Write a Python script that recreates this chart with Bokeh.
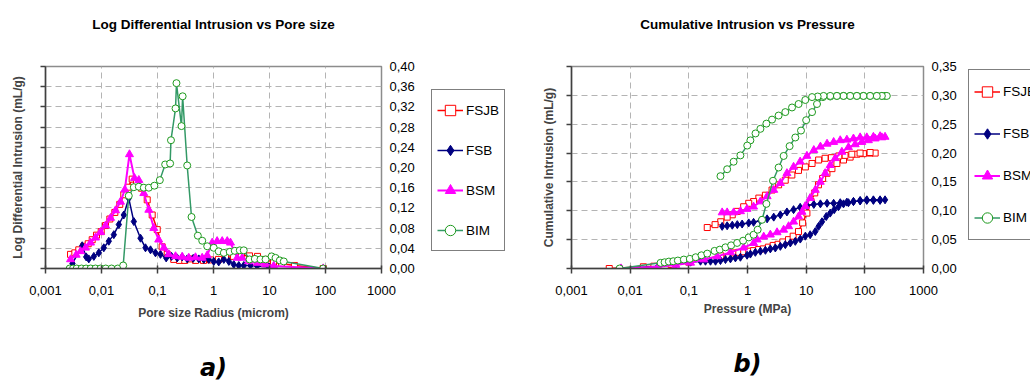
from bokeh.plotting import figure
from bokeh.models import (Range1d, LinearAxis, FixedTicker, CustomJSTickFormatter,
                          Legend, LegendItem, Title)
from bokeh.layouts import row
from bokeh.embed import file_html
from bokeh.resources import INLINE

# ---------------- data ----------------
series_names = ["FSJB", "FSB", "BSM", "BIM"]

x_tick_values = [0.001, 0.01, 0.1, 1, 10, 100, 1000]
x_tick_labels = ["0,001", "0,01", "0,1", "1", "10", "100", "1000"]
ldi_ticks = [0.00, 0.04, 0.08, 0.12, 0.16, 0.20, 0.24, 0.28, 0.32, 0.36, 0.40]
cum_ticks = [0.00, 0.05, 0.10, 0.15, 0.20, 0.25, 0.30, 0.35]

# (a) Log differential intrusion (mL/g) vs pore radius (micron)
fsjb_r = [0.0028, 0.00334, 0.00393, 0.00483, 0.00579, 0.00682, 0.00814, 0.00988, 0.0118, 0.0141,
          0.0173, 0.0212, 0.025, 0.030, 0.0353, 0.0422, 0.0518, 0.0655, 0.0804, 0.0989,
          0.121, 0.149, 0.195, 0.247, 0.307, 0.388, 0.477, 0.663, 0.884, 1.23,
          1.64, 2.28, 3.16, 4.39, 6.1, 8.5, 11.8, 16.4, 27.9, 91]
fsjb_ldi = [0.028, 0.031, 0.037, 0.044, 0.049, 0.057, 0.066, 0.073, 0.085, 0.098,
            0.111, 0.127, 0.146, 0.161, 0.177, 0.172, 0.159, 0.136, 0.106, 0.077,
            0.043, 0.028, 0.018, 0.016, 0.016, 0.019, 0.016, 0.016, 0.017, 0.018,
            0.022, 0.024, 0.026, 0.025, 0.024, 0.018, 0.012, 0.010, 0.006, 0.0]
fsb_r = [0.00303, 0.00452, 0.00533, 0.00593, 0.0073, 0.00895, 0.011, 0.0135, 0.0166, 0.0204,
         0.025, 0.0307, 0.0378, 0.0497, 0.061, 0.075, 0.092, 0.113, 0.143, 0.178,
         0.225, 0.276, 0.339, 0.434, 0.547, 0.671, 0.824, 1.01, 1.24, 1.53,
         1.88, 2.30, 2.83, 3.48, 4.58, 6.03, 9.8]
fsb_ldi = [0.010, 0.045, 0.023, 0.019, 0.024, 0.031, 0.041, 0.054, 0.067, 0.087,
           0.106, 0.139, 0.093, 0.060, 0.041, 0.037, 0.031, 0.028, 0.021, 0.024,
           0.021, 0.023, 0.019, 0.020, 0.019, 0.018, 0.018, 0.014, 0.013, 0.018,
           0.014, 0.008, 0.006, 0.006, 0.006, 0.005, 0.003]
bsm_r = [0.0028, 0.00353, 0.00422, 0.00518, 0.00636, 0.00781, 0.0096, 0.0118, 0.0145, 0.0178,
         0.0218, 0.0261, 0.0316, 0.0388, 0.0464, 0.0569, 0.070, 0.0859, 0.105, 0.130,
         0.159, 0.21, 0.276, 0.362, 0.477, 0.628, 0.772, 0.948, 1.16, 1.43,
         1.76, 2.01, 2.65, 3.26, 4.22, 6.03, 8.49, 11.9, 91]
bsm_ldi = [0.018, 0.027, 0.034, 0.041, 0.051, 0.061, 0.072, 0.085, 0.100, 0.115,
           0.132, 0.156, 0.226, 0.179, 0.175, 0.149, 0.116, 0.080, 0.057, 0.041,
           0.028, 0.024, 0.023, 0.021, 0.022, 0.021, 0.026, 0.051, 0.054, 0.054,
           0.054, 0.051, 0.021, 0.021, 0.014, 0.011, 0.008, 0.005, 0.0]
bim_r = [0.0027, 0.0031, 0.0036, 0.0044, 0.0053, 0.0064, 0.0078, 0.0096, 0.0119, 0.0151,
         0.0195, 0.0244, 0.0307, 0.0378, 0.0464, 0.0569, 0.070, 0.088, 0.110, 0.137,
         0.168, 0.174, 0.21, 0.218, 0.268, 0.281, 0.339, 0.405, 0.525, 0.629,
         0.772, 1.01, 1.24, 1.53, 1.95, 2.40, 2.95, 3.47, 4.4, 5.47,
         6.9, 8.5, 10.9, 12.8, 15.3, 18.0, 91]
bim_ldi = [0, 0, 0, 0, 0, 0, 0, 0, 0, 0,
           0, 0.006, 0.144, 0.161, 0.162, 0.160, 0.160, 0.164, 0.175, 0.206,
           0.208, 0.254, 0.317, 0.367, 0.282, 0.341, 0.204, 0.102, 0.065, 0.055,
           0.044, 0.041, 0.034, 0.031, 0.033, 0.035, 0.036, 0.036, 0.018, 0.019,
           0.018, 0.018, 0.024, 0.021, 0.016, 0.014, 0.0]

# (b) Cumulative intrusion (mL/g) vs pressure (MPa): intrusion branch then extrusion branch
fsjb_p_in = [0.0044, 0.0168, 0.0254, 0.05, 0.1, 0.2, 0.35, 0.58, 0.71, 0.86,
             1.05, 1.27, 1.55, 1.86, 2.27, 2.74, 3.32, 4.0, 5.0, 6.0,
             7.4, 8.7, 10.3, 12.1, 14.0, 16.2, 19.1, 22.6, 27.5, 33.4,
             43.3, 56.2, 73.1, 94.6, 123, 150]
fsjb_ci_in = [0, 0.003, 0.004, 0.007, 0.011, 0.017, 0.022, 0.027, 0.028, 0.029,
              0.030, 0.031, 0.033, 0.034, 0.037, 0.040, 0.042, 0.046, 0.050, 0.056,
              0.064, 0.079, 0.096, 0.116, 0.131, 0.145, 0.156, 0.165, 0.173, 0.182,
              0.188, 0.193, 0.198, 0.199, 0.200, 0.200]
fsjb_p_out = [123, 83, 60, 46, 36, 27, 21, 16.3, 12.6, 9.7,
              7.4, 5.7, 4.4, 3.39, 2.62, 2.02, 1.56, 1.27, 1.05, 0.86,
              0.67, 0.55, 0.45, 0.35, 0.28, 0.206]
fsjb_ci_out = [0.201, 0.200, 0.198, 0.196, 0.195, 0.192, 0.191, 0.188, 0.182, 0.176,
               0.170, 0.162, 0.153, 0.145, 0.136, 0.127, 0.122, 0.116, 0.113, 0.107,
               0.099, 0.093, 0.089, 0.081, 0.076, 0.071]
fsb_p_in = [0.007, 0.03, 0.06, 0.107, 0.158, 0.192, 0.234, 0.285, 0.346, 0.421,
            0.512, 0.622, 0.757, 0.984, 1.12, 1.36, 1.66, 2.02, 2.45, 2.98,
            3.63, 4.41, 5.37, 6.53, 7.94, 9.66, 11.7, 14.3, 16.3, 18.6,
            22, 25.7, 30.1, 35.6, 43.3, 52.6, 64, 83.2, 108, 140,
            182, 221]
fsb_ci_in = [0, 0.004, 0.007, 0.011, 0.0126, 0.0126, 0.0126, 0.0126, 0.0138, 0.0155,
             0.0167, 0.0184, 0.0195, 0.023, 0.025, 0.028, 0.030, 0.0315, 0.034, 0.0356,
             0.0384, 0.0413, 0.0443, 0.047, 0.051, 0.056, 0.0585, 0.064, 0.073, 0.081,
             0.090, 0.096, 0.102, 0.107, 0.112, 0.114, 0.116, 0.118, 0.119, 0.119,
             0.119, 0.119]
fsb_p_out = [182, 140, 108, 83.2, 64, 49.4, 38.1, 29.4, 22.7, 17.5,
             13.5, 10.3, 7.9, 6.1, 4.7, 3.63, 2.8, 2.16, 1.66, 1.27,
             1.05, 0.81, 0.67, 0.55, 0.45, 0.37]
fsb_ci_out = [0.118, 0.118, 0.118, 0.117, 0.116, 0.115, 0.114, 0.113, 0.113, 0.112,
              0.111, 0.109, 0.106, 0.102, 0.098, 0.093, 0.089, 0.086, 0.083, 0.080,
              0.079, 0.077, 0.076, 0.075, 0.074, 0.073]
bsm_p_in = [0.007, 0.03, 0.06, 0.107, 0.18, 0.304, 0.512, 0.861, 1.27, 1.46,
            1.89, 2.45, 3.19, 4.13, 5.02, 6.1, 7.43, 8.49, 9.66, 11.7,
            14.3, 17.4, 21.1, 25.7, 31.3, 40.6, 52.6, 68.4, 88.9, 115,
            150, 195, 221]
bsm_ci_in = [0, 0.003, 0.006, 0.0098, 0.0155, 0.021, 0.028, 0.036, 0.044, 0.050,
             0.055, 0.0585, 0.0625, 0.067, 0.073, 0.081, 0.090, 0.098, 0.108, 0.122,
             0.136, 0.150, 0.165, 0.179, 0.191, 0.202, 0.210, 0.215, 0.219, 0.222,
             0.225, 0.227, 0.228]
bsm_p_out = [182, 140, 108, 83.2, 64, 49.4, 38.1, 29.4, 22.7, 17.5,
             13.5, 10.3, 7.9, 6.1, 4.7, 3.63, 2.8, 2.16, 1.66, 1.27,
             0.98, 0.76, 0.58, 0.45, 0.37]
bsm_ci_out = [0.229, 0.228, 0.227, 0.227, 0.225, 0.223, 0.222, 0.219, 0.216, 0.211,
              0.205, 0.195, 0.185, 0.176, 0.165, 0.148, 0.136, 0.125, 0.116, 0.107,
              0.103, 0.099, 0.097, 0.097, 0.097]
bim_p_in = [0.0066, 0.033, 0.0386, 0.0457, 0.0543, 0.065, 0.0822, 0.104, 0.131, 0.164,
            0.206, 0.274, 0.337, 0.421, 0.526, 0.666, 0.842, 1.05, 1.27, 1.49,
            1.77, 2.10, 2.72, 3.39, 4.13, 5.22, 6.53, 8.16, 10.0, 12.6,
            15.3, 19.3, 25.7, 33.4, 43.3, 56.2, 73.1, 94.6, 123, 160,
            195, 221, 237]
bim_ci_in = [0, 0.0098, 0.0108, 0.012, 0.0126, 0.0138, 0.0155, 0.0167, 0.0195, 0.0229,
             0.0258, 0.0305, 0.0327, 0.0367, 0.0401, 0.0443, 0.0482, 0.0539, 0.0585, 0.0672,
             0.0844, 0.112, 0.152, 0.175, 0.195, 0.212, 0.227, 0.239, 0.257, 0.271,
             0.285, 0.297, 0.298, 0.299, 0.299, 0.299, 0.299, 0.299, 0.299, 0.299,
             0.299, 0.299, 0.299]
bim_p_out = [195, 160, 123, 94.6, 73.1, 56.2, 43.3, 33.4, 25.7, 19.8,
             15.7, 12.6, 9.66, 7.43, 5.74, 4.41, 3.39, 2.62, 2.10, 1.66,
             1.37, 1.12, 0.99, 0.757, 0.58, 0.45, 0.346]
bim_ci_out = [0.299, 0.299, 0.299, 0.299, 0.299, 0.299, 0.299, 0.299, 0.299, 0.299,
              0.298, 0.297, 0.292, 0.285, 0.279, 0.271, 0.265, 0.258, 0.251, 0.242,
              0.234, 0.222, 0.213, 0.196, 0.185, 0.172, 0.160]

# ---------------- styling ----------------
FONT = "Liberation Sans"
STYLES = {
    "FSJB": dict(line="#FF0000", marker="square", size=6, fill="white", edge="#FF0000", lw=1.5),
    "FSB": dict(line="#000080", marker="diamond", size=8, fill="#000080", edge="#000080", lw=1.5),
    "BSM": dict(line="#FF00FF", marker="triangle", size=8, fill="#FF00FF", edge="#FF00FF", lw=2),
    "BIM": dict(line="#339966", marker="circle", size=7, fill="white", edge="#1E9A1E", lw=1.5),
}
AXIS_COL = "#404040"
GRID_COL = "#B4B4B4"


def make_fig(width, b_left, b_right, ymax, yticks, title, xlabel, ylabel, ylab_standoff,
             xlab_standoff, data, letter):
    p = figure(width=width, height=381, x_axis_type="log",
               x_range=Range1d(0.001, 1000), y_range=Range1d(0, ymax),
               y_axis_location="right", output_backend="svg", toolbar_location=None,
               min_border_left=b_left, min_border_right=b_right,
               min_border_top=66, min_border_bottom=112, title=None)
    p.outline_line_color = "#8C8C8C"
    p.outline_line_width = 1.5
    p.background_fill_color = "white"
    p.border_fill_color = "white"

    p.add_layout(Title(text=" ", text_font_size="1px", standoff=16), "above")
    p.add_layout(Title(text=title, align="center", vertical_align="top", standoff=28,
                       text_font=FONT, text_font_size="13.5px", text_font_style="bold",
                       text_color="black"), "above")

    xa = p.xaxis[0]
    xa.ticker = FixedTicker(ticks=x_tick_values, minor_ticks=[])
    xa.formatter = CustomJSTickFormatter(
        args=dict(vals=x_tick_values, labels=x_tick_labels),
        code="""let b = 0; for (let i = 0; i < vals.length; i++) {
                  if (Math.abs(Math.log10(vals[i]) - Math.log10(tick)) < 1e-6) b = i; }
                return labels[b];""")
    xa.axis_label = xlabel
    xa.axis_label_text_font = FONT
    xa.axis_label_text_font_size = "12px"
    xa.axis_label_text_font_style = "bold"
    xa.axis_label_standoff = xlab_standoff
    xa.major_label_text_font = FONT
    xa.major_label_text_font_size = "13px"
    xa.major_label_text_color = "black"
    xa.major_label_standoff = 12
    xa.major_tick_in = 3
    xa.major_tick_out = 5
    xa.minor_tick_in = 0
    xa.minor_tick_out = 0
    xa.axis_line_color = AXIS_COL
    xa.axis_line_width = 1.5
    xa.major_tick_line_color = AXIS_COL
    xa.major_tick_line_width = 1.5

    p.add_layout(Title(text=" ", text_font_size="1px", standoff=26), "below")
    p.add_layout(Title(text=letter, align="center", vertical_align="bottom", standoff=0,
                       text_font="DejaVu Sans", text_font_size="24px",
                       text_font_style="bold italic", text_color="black"), "below")

    ya = p.yaxis[0]
    ya.ticker = FixedTicker(ticks=yticks, minor_ticks=[])
    ya.formatter = CustomJSTickFormatter(code="return tick.toFixed(2).replace('.', ',');")
    ya.major_label_text_font = FONT
    ya.major_label_text_font_size = "13px"
    ya.major_label_text_color = "black"
    ya.major_label_standoff = 8
    ya.major_tick_in = 0
    ya.major_tick_out = 0
    ya.minor_tick_in = 0
    ya.minor_tick_out = 0
    ya.axis_line_color = None

    la = LinearAxis(ticker=FixedTicker(ticks=yticks, minor_ticks=[]),
                    formatter=CustomJSTickFormatter(code="return '';"),
                    axis_label=ylabel, axis_label_text_font=FONT,
                    axis_label_text_font_size="12px", axis_label_text_font_style="bold",
                    axis_label_standoff=ylab_standoff, major_label_standoff=0,
                    major_tick_in=0, major_tick_out=5, minor_tick_in=0, minor_tick_out=0,
                    axis_line_color=AXIS_COL, axis_line_width=1.5,
                    major_tick_line_color=AXIS_COL, major_tick_line_width=1.5)
    p.add_layout(la, "left")

    p.xgrid.ticker = FixedTicker(ticks=x_tick_values, minor_ticks=[])
    p.ygrid.ticker = FixedTicker(ticks=yticks, minor_ticks=[])
    for g in (p.xgrid, p.ygrid):
        g.grid_line_color = GRID_COL
        g.grid_line_dash = "6 4"
        g.grid_line_width = 1

    for name in series_names:
        xs, ys = data[name]
        s = STYLES[name]
        p.line(xs, ys, line_color=s["line"], line_width=s["lw"])
        p.scatter(xs, ys, marker=s["marker"], size=s["size"], fill_color=s["fill"],
                  line_color=s["edge"], line_width=1)
    return p


def make_legend_fig(width, loc, item_h, spacing):
    """A separate, axis-less canvas holding only the legend box (placed beside a chart)."""
    lf = figure(width=width, height=381, x_range=Range1d(0, 1), y_range=Range1d(0, 1),
                x_axis_location=None, y_axis_location=None, output_backend="svg",
                toolbar_location=None, min_border=0, title=None)
    lf.outline_line_color = None
    lf.background_fill_color = "white"
    lf.border_fill_color = "white"
    lf.grid.grid_line_color = None
    items = []
    for name in series_names:
        s = STYLES[name]
        ln = lf.line([float("nan")], [float("nan")], line_color=s["line"], line_width=s["lw"])
        sc = lf.scatter([float("nan")], [float("nan")], marker=s["marker"], size=s["size"],
                        fill_color=s["fill"], line_color=s["edge"], line_width=1)
        items.append(LegendItem(label=name, renderers=[ln, sc]))
    legend = Legend(items=items, location=loc, padding=5, spacing=spacing,
                    label_height=item_h, glyph_height=item_h, glyph_width=26,
                    label_standoff=3, label_text_font=FONT, label_text_font_size="13.5px",
                    label_text_color="black", border_line_color="black",
                    border_line_width=1.2, background_fill_color="white",
                    background_fill_alpha=1.0, margin=0)
    lf.add_layout(legend, "center")
    return lf


data_a = {"FSJB": (fsjb_r, fsjb_ldi), "FSB": (fsb_r, fsb_ldi),
          "BSM": (bsm_r, bsm_ldi), "BIM": (bim_r, bim_ldi)}
data_b = {"FSJB": (fsjb_p_in + fsjb_p_out, fsjb_ci_in + fsjb_ci_out),
          "FSB": (fsb_p_in + fsb_p_out, fsb_ci_in + fsb_ci_out),
          "BSM": (bsm_p_in + bsm_p_out, bsm_ci_in + bsm_ci_out),
          "BIM": (bim_p_in + bim_p_out, bim_ci_in + bim_ci_out)}

pa = make_fig(426, 45, 45, 0.40, ldi_ticks, "Log Differential Intrusion vs Pore size",
              "Pore size Radius (microm)", "Log Differential Intrusion (mL/g)", 16, 8,
              data_a, "a)")
la_fig = make_legend_fig(94, (5, 17), 30, 10)
pb = make_fig(440, 51, 37, 0.35, cum_ticks, "Cumulative Intrusion vs Pressure",
              "Pressure (MPa)", "Cumulative Intrusion (mL/g)", 11, 4,
              data_b, "b)")
lb_fig = make_legend_fig(70, (8, 28), 33, 9)

layout = row(pa, la_fig, pb, lb_fig, spacing=0)
open("out.html", "w").write(file_html(layout, INLINE))
